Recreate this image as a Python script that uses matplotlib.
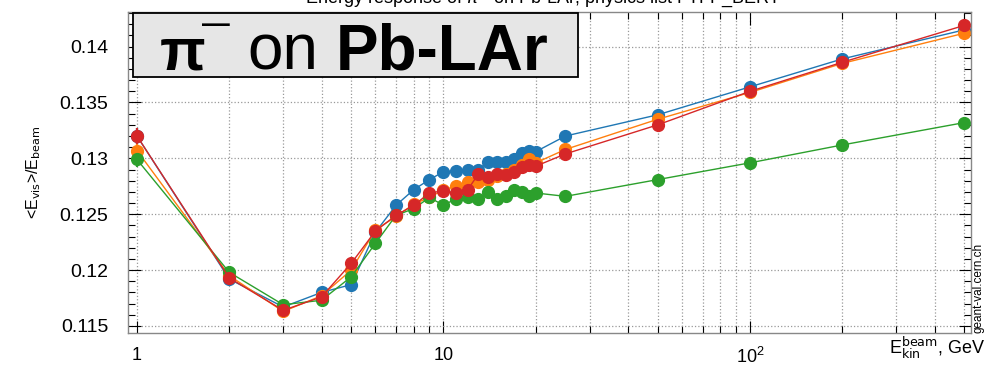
import numpy as np
import matplotlib
matplotlib.use("Agg")
import matplotlib.pyplot as plt
from matplotlib.ticker import FixedLocator, FixedFormatter, MultipleLocator, NullFormatter

plt.rcParams['font.family'] = ['Liberation Sans', 'DejaVu Sans']

# beam kinetic energy, GeV
energy = [1, 2, 3, 4, 5, 6, 7, 8, 9, 10, 11, 12, 13, 14, 15, 16, 17, 18, 19, 20,
          25, 50, 100, 200, 500]

# <E_vis>/E_beam for the four physics configurations
resp_blue = [0.1320, 0.1192, 0.1167, 0.1180, 0.1187, 0.1234, 0.1258, 0.1272, 0.1281, 0.1288,
             0.1289, 0.1290, 0.1290, 0.1297, 0.1297, 0.1297, 0.1299, 0.1305, 0.1307, 0.1306,
             0.1320, 0.1339, 0.1364, 0.1389, 0.1415]
resp_orange = [0.1307, 0.1195, 0.1163, 0.1177, 0.1200, 0.1236, 0.1248, 0.1259, 0.1265, 0.1272,
               0.1275, 0.1279, 0.1279, 0.1281, 0.1284, 0.1286, 0.1290, 0.1294, 0.1299, 0.1296,
               0.1308, 0.1335, 0.1359, 0.1385, 0.1412]
resp_green = [0.1299, 0.1198, 0.1169, 0.1173, 0.1194, 0.1224, 0.1249, 0.1255, 0.1265, 0.1258,
              0.1264, 0.1265, 0.1264, 0.1270, 0.1264, 0.1266, 0.1272, 0.1270, 0.1266, 0.1269,
              0.1266, 0.1281, 0.1296, 0.1312, 0.1332]
resp_red = [0.1320, 0.1193, 0.1164, 0.1176, 0.1206, 0.1235, 0.1249, 0.1258, 0.1269, 0.1271,
            0.1269, 0.1272, 0.1286, 0.1283, 0.1286, 0.1285, 0.1288, 0.1292, 0.1294, 0.1293,
            0.1304, 0.1330, 0.1360, 0.1386, 0.1419]
resp_err = [0.0007, 0.0005, 0.0004, 0.0004, 0.0004, 0.0003, 0.0003, 0.0003, 0.0003, 0.0003,
            0.0003, 0.0003, 0.0003, 0.0003, 0.0003, 0.0003, 0.0003, 0.0003, 0.0003, 0.0003,
            0.0003, 0.0003, 0.0003, 0.0003, 0.0003]

series = [(resp_blue, '#1f77b4'), (resp_orange, '#ff7f0e'),
          (resp_green, '#2ca02c'), (resp_red, '#d62728')]

fig = plt.figure(figsize=(9.87, 3.70), dpi=100)
ax = fig.add_axes([0.1297, 0.1, 0.8541, 0.8676])

for vals, col in series:
    ax.errorbar(energy, vals, yerr=resp_err, color=col, lw=1.0, marker='o', ms=8.5,
                elinewidth=1.6, capsize=0, mec=col)

ax.set_xscale('log')
ax.set_xlim(0.935, 526)
ax.set_ylim(0.11437, 0.1431)

ax.xaxis.set_major_locator(FixedLocator([1, 10, 100]))
ax.xaxis.set_major_formatter(FixedFormatter(['1', '10', r'$\mathregular{10^{2}}$']))
minor_x = [m * d for d in (1, 10, 100) for m in range(2, 10) if m * d < 526]
ax.xaxis.set_minor_locator(FixedLocator(minor_x))
ax.xaxis.set_minor_formatter(NullFormatter())
ax.yaxis.set_major_locator(MultipleLocator(0.005))
ax.yaxis.set_minor_locator(MultipleLocator(0.001))
ax.yaxis.set_major_formatter(plt.FuncFormatter(lambda v, p: ('%.3f' % v).rstrip('0')))

ax.tick_params(which='both', direction='in', top=True, right=True, labelsize=14)
ax.tick_params(which='major', length=9, width=0.8)
ax.tick_params(which='minor', length=5, width=0.8)
ax.tick_params(axis='x', which='major', pad=10, labelsize=13)
ax.tick_params(axis='y', which='major', pad=14)

ax.grid(True, which='major', axis='y', ls=':', color='#999999', lw=0.9)
ax.grid(True, which='both', axis='x', ls=':', color='#999999', lw=0.9)
for s in ax.spines.values():
    s.set_color('#888888')
    s.set_linewidth(1.0)

ax.set_ylabel(r'<E$_{\rm vis}$>/E$_{\rm beam}$', fontsize=11.5, labelpad=12)
fig.text(0.998, 0.025, r'E$_{\rm kin}^{\rm beam}$, GeV', ha='right', va='bottom', fontsize=13)
fig.text(0.997, 0.1, 'geant-val.cern.ch', rotation=90, ha='right', va='bottom', fontsize=8.5)

# title, mostly above the top edge as in the original
fig.text(0.55, 1 - 3 / 370, r'Energy response of $\pi^{-}$ on Pb-LAr, physics list FTFP_BERT',
         ha='center', va='baseline', fontsize=13)

# label box
box = plt.Rectangle((133 / 987, 1 - 77 / 370), (578 - 133) / 987, (77 - 13) / 370,
                    transform=fig.transFigure, facecolor='#e6e6e6', edgecolor='black',
                    lw=1.3, zorder=5)
fig.add_artist(box)
base_y = 1 - 70 / 370
fig.text(160 / 987, base_y, 'π', fontsize=43, fontweight='bold', ha='left', va='baseline', zorder=6)
fig.text(202 / 987, 1 - 32 / 370, '\u2014', fontsize=20, fontweight='bold', ha='left', va='baseline', zorder=6)
fig.text(247 / 987, base_y, 'on', fontsize=46, ha='left', va='baseline', zorder=6)
fig.text(336 / 987, base_y, 'Pb-LAr', fontsize=46, fontweight='bold', ha='left', va='baseline', zorder=6)

fig.savefig('out.png', dpi=100)
